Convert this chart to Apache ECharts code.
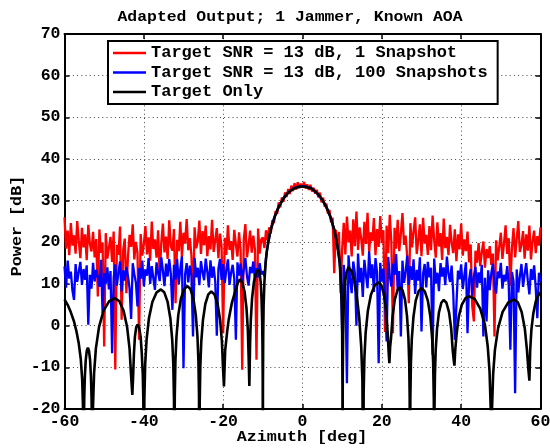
<!DOCTYPE html>
<html><head><meta charset="utf-8">
<script src="https://cdn.jsdelivr.net/npm/echarts@6/dist/echarts.min.js"></script>
<style>html,body{margin:0;padding:0;background:#fff}#c{width:550px;height:448px}</style>
</head><body><div id="c"></div><script>
const titleText = 'Adapted Output; 1 Jammer, Known AOA';
const xLabel = 'Azimuth [deg]';
const yLabel = 'Power [dB]';
const seriesNames = ['Target SNR = 13 dB, 1 Snapshot', 'Target SNR = 13 dB, 100 Snapshots', 'Target Only'];
const xRange = [-60, 60, 20];
const yRange = [-20, 70, 10];

// azimuth sampling grid of the noisy curves: -60 .. 60 deg, 0.4 deg apart
const azStart = -60, azStep = 0.4;

const redDb = [
26.0,18.5,22.8,16.9,24.6,19.2,21.7,17.3,25.1,20.4,
16.2,23.5,18.8,21.9,15.7,24.2,19.6,17.8,22.5,16.4,
20.8,7.0,23.1,17.5,19.9,-5.0,22.2,16.1,18.7,21.3,
15.3,22.6,-10.5,19.4,17.0,23.8,1.4,18.2,20.9,7.8,
16.6,21.8,18.9,24.3,15.9,20.1,17.4,-3.4,22.0,16.8,
19.5,23.9,17.1,21.2,15.6,25.0,18.4,20.7,16.3,22.9,
12.0,19.8,24.5,17.6,21.4,16.0,25.3,19.1,18.0,23.2,
5.4,20.6,17.9,24.9,16.5,22.3,19.7,25.6,18.1,21.0,
16.9,4.6,23.6,18.6,20.2,25.2,17.2,22.7,19.3,24.0,
16.7,21.5,18.3,25.4,17.7,20.5,23.4,16.2,22.1,19.0,
-1.8,21.1,17.0,24.1,18.2,20.3,15.8,23.0,19.5,16.6,
22.4,18.0,-10.6,20.8,24.4,16.4,19.2,22.8,17.5,21.6,
18.4,-8.2,23.3,17.3,20.7,
21.2,18.6,22.9,20.5,23.6,22.1,25.3,24.6,27.5,26.8,
29.6,28.4,30.8,29.7,32.0,30.9,32.8,31.6,33.6,32.3,
34.2,32.7,34.4,33.0,34.1,33.2,34.5,32.9,33.9,32.6,
33.8,32.2,33.1,31.7,32.6,30.8,31.9,29.6,30.7,28.5,
29.3,26.9,27.8,24.8,25.9,12.6,23.0,19.4,22.5,7.8,
18.3,24.7,17.1,26.2,20.0,22.8,16.6,25.5,19.1,27.4,
18.2,23.6,20.9,16.8,24.9,19.6,27.1,17.7,22.4,20.3,
25.8,16.9,23.2,18.9,26.3,19.8,22.9,-1.5,24.0,17.4,
26.6,20.1,-1.8,23.5,18.5,25.4,17.9,22.1,27.0,19.4,
21.6,16.5,5.4,24.6,18.8,22.6,26.0,17.2,20.6,24.3,
16.7,25.9,19.7,21.8,17.0,23.9,18.1,26.4,20.4,16.3,
24.8,19.0,22.2,15.8,25.7,18.6,21.3,16.9,24.2,19.9,
17.4,23.1,15.5,21.9,18.3,24.5,16.8,20.7,17.9,22.6,
15.2,19.5,4.6,1.0,18.0,15.1,19.8,14.3,17.6,20.2,
13.9,18.4,16.2,19.1,14.6,17.3,-2.6,20.5,15.7,18.9,
22.3,16.0,19.7,24.1,17.2,21.0,9.6,18.7,23.4,16.4,
20.8,25.1,17.7,19.4,22.7,16.1,21.9,18.0,24.0,15.9,
20.3,22.8,17.4,21.5,19.2,23.6
];

const blueDb = [
14.2,9.1,15.6,11.3,13.0,8.4,6.2,14.8,10.5,12.9,
15.3,9.8,13.6,11.0,14.5,0.2,12.2,8.9,15.1,10.6,
13.4,11.7,9.3,15.8,3.0,12.6,10.1,14.0,8.7,13.1,
-6.6,11.5,14.7,9.6,12.8,15.4,8.2,13.3,10.8,14.1,
11.9,9.0,1.6,15.0,12.4,10.3,4.6,13.8,11.2,15.6,
9.4,13.5,12.0,16.2,10.0,14.3,11.4,8.6,15.2,12.7,
10.7,16.4,13.2,9.5,14.9,11.8,16.0,12.5,3.8,14.6,
11.1,15.9,9.9,13.7,16.6,-10.2,12.3,15.0,10.4,14.4,
12.1,-2.6,16.3,11.6,13.9,9.7,15.5,12.9,10.9,16.1,
13.0,9.2,15.7,11.5,14.2,10.6,-2.4,13.6,16.0,11.0,
14.8,10.2,13.4,15.9,9.8,12.7,14.6,11.3,-3.4,15.2,
12.0,14.9,10.7,13.5,16.2,11.9,9.6,14.1,12.6,15.4,
10.9,13.8,11.6,15.0,12.3,
13.1,11.8,16.3,19.2,21.0,23.2,24.3,25.7,26.6,27.7,
28.4,29.3,29.8,30.6,30.9,31.6,31.8,32.3,32.4,32.9,
32.9,33.2,33.2,33.4,33.3,33.5,33.3,33.4,33.2,33.2,
32.9,32.9,32.4,32.3,31.8,31.6,30.9,30.6,29.8,29.3,
28.4,27.7,26.6,25.7,24.3,23.2,21.0,19.2,16.5,13.0,
-1.4,14.6,9.5,-13.8,16.9,11.2,7.8,15.4,12.6,0.0,
17.3,10.4,13.9,6.9,15.8,12.1,9.0,17.8,11.4,14.7,
8.1,16.2,12.8,-9.0,15.1,10.6,13.7,7.4,-3.8,16.5,
11.9,9.4,14.9,12.2,17.2,8.6,13.1,-2.6,15.6,10.3,
12.9,16.8,9.8,14.3,11.0,15.9,7.6,13.4,10.8,16.4,
-1.4,12.5,14.8,9.2,15.3,11.6,13.9,-7.0,16.1,10.1,
12.7,8.3,15.0,11.8,14.0,9.7,16.6,12.4,10.5,14.4,
7.9,-3.4,5.0,13.2,11.1,14.7,8.8,12.0,15.2,-1.8,
10.9,13.6,7.2,11.9,14.1,9.1,12.8,10.2,14.6,-2.6,
11.5,1.0,13.3,8.5,12.6,14.9,10.0,7.7,13.0,11.4,
15.1,8.9,12.2,10.6,14.3,9.6,-5.8,12.9,10.7,-16.2,
13.5,8.0,11.8,14.8,9.3,12.4,15.0,10.8,7.5,13.6,
11.0,14.5,9.0,1.8,12.7,10.5
];

// target-only pattern (az in deg, power in dB)
const blackAz = [
-60,-59.2,-58.4,-57.6,-57,-56.4,-55.9,-55.55,-55.35,-55.2,
-55.17,-55.11,-55.02,-54.87,-54.65,-54.38,-54.1,-53.83,-53.55,-53.33,-53.18,-53.09,-53.03,-53,
-52.83,-52.54,-52.09,-51.29,-50.15,-48.72,-47.3,-46.2,-45.1,-44.22,-43.6,-43.25,-42.9,
-42.7,-42.5,-42.25,-41.93,-41.6,-41.2,-40.8,-40.52,-40.26,-40.13,-40.05,-40,
-39.87,-39.66,-39.31,-38.71,-37.85,-36.77,-35.7,-34.85,-34,-33.32,-32.84,-32.57,-32.4,-32.3,
-32.2,-32.04,-31.77,-31.31,-30.65,-29.83,-29,-28.25,-27.5,-26.9,-26.48,-26.24,-26.09,-26,
-25.91,-25.76,-25.52,-25.1,-24.5,-23.75,-23,-22.2,-21.4,-20.76,-20.31,-20.06,-19.8,
-19.5,-19,-18.6,-17.8,-16.9,-16.3,-15.8,-15.2,-14.6,-14.12,-13.78,-13.6,-13.4,
-13.22,-13.03,-12.71,-12.25,-11.68,-11.1,-10.83,-10.55,-10.33,-10.18,-10.09,-10.03,-10,
-9.97,-9.9,-9.8,-9.6,-9.3,-9,-8.5,-8,-7,-6,-5,-4,-3,-2,-1,0,1,2,3,4,5,6,7,8,8.5,9,9.4,9.7,9.9,10,10.07,10.1,
10.15,10.25,10.4,10.65,11,11.6,12.3,13,13.7,14.3,14.8,15.1,15.3,
15.42,15.61,15.92,16.47,17.25,18.22,19.2,19.88,20.55,21.09,21.47,21.7,21.9,
22.1,22.33,22.71,23.25,23.93,24.6,25.23,25.85,26.35,26.7,26.9,27.02,27.1,
27.19,27.33,27.56,27.97,28.55,29.28,30,30.8,31.6,32.24,32.69,32.94,33.1,33.2,
33.27,33.39,33.58,33.92,34.4,35,35.6,36.28,36.95,37.49,37.87,38.1,38.3,
38.5,38.85,39.4,40.15,41.1,42,43.4,44.8,46,46.7,47.15,47.43,47.6,
47.77,48.06,48.51,49.31,50.45,51.88,53.3,54.28,55.25,56.03,56.58,56.9,57.2,
57.4,57.7,58.2,58.8,59.4,60
];
const blackDb = [
6.3,5.0,3.2,1.0,-1.3,-4.3,-8.0,-12.8,-19,-40,
-31.8,-23.3,-17.4,-12.2,-8.3,-6.0,-5.3,-6.0,-8.3,-12.2,-17.4,-23.3,-31.8,-40,
-19.9,-11.4,-5.5,-0.3,3.6,5.9,6.6,5.9,3.6,-0.3,-5.5,-11.4,-16.6,
-12.1,-6.8,-2.7,-0.4,0.3,-0.4,-2.7,-6.6,-11.8,-17.7,-26.2,-40,
-17.8,-9.3,-3.4,1.8,5.7,8.0,8.7,8.0,5.7,1.8,-3.4,-9.3,-17.8,-40,
-17.0,-8.5,-2.6,2.6,6.5,8.8,9.5,8.8,6.5,2.6,-2.6,-8.5,-17.0,-40,
-18.3,-9.8,-3.9,1.3,5.2,7.5,8.2,7.5,5.2,1.3,-3.9,-9.8,-14.6,
-6,-1.5,1.5,5.5,8.5,10.3,11.1,10.4,8.1,4.2,-1.0,-6.9,-14.5,
-4.5,1.4,6.6,10.5,12.8,13.5,12.8,10.5,6.6,1.4,-4.5,-13,-40,
-14,-2,5,10.5,15,17.8,20.8,23.0,26.2,28.5,30.2,31.5,32.4,33.0,33.3,33.4,33.3,33.0,32.4,31.5,30.2,28.5,26.2,23.0,20.8,17.8,15,10.5,5,-2,-14,-40,
-12,-2,5,9.5,12.5,14.1,13.2,11,7,2,-5,-13,-40,
-16.1,-7.6,-1.7,3.5,7.4,9.7,10.4,9.7,7.4,3.5,-1.7,-6,-9,
-5,-2.9,2.3,6.2,8.5,9.2,8.5,6.2,2.3,-2.9,-8.8,-17.3,-40,
-17.5,-9.0,-3.1,2.1,6.0,8.3,9.0,8.3,6.0,2.1,-3.1,-9.0,-17.5,-40,
-20.3,-11.8,-5.9,-0.7,3.2,5.5,6.2,5.5,3.2,-0.7,-5.9,-8,-9.6,
-6,-2,2.2,5.0,6.6,7.1,6.4,4.1,0.2,-5.0,-10.9,-19.4,-40,
-20.2,-11.7,-5.8,-0.6,3.3,5.6,6.3,5.6,3.3,-0.6,-5.8,-10,-13.2,
-6,-1,3,5.8,7.2,8.0
];

const FONT = "'Liberation Mono', 'Courier New', monospace";
const pairs = (ys) => ys.map((v, i) => [azStart + i * azStep, v]);
const blackData = blackAz.map((a, i) => [a, blackDb[i]]);

const chart = echarts.init(document.getElementById('c'), null, {renderer: 'canvas'});

const baseAxis = {
  axisLine: {show: true, onZero: false, lineStyle: {color: '#000', width: 2}},
  axisTick: {show: true, inside: true, length: 5, lineStyle: {color: '#000', width: 1.5}},
};
const gridLine = {show: true, lineStyle: {color: '#444', width: 1, type: [1, 3.2]}};
const lbl = {color: '#000', fontFamily: FONT, fontWeight: 'bold', fontSize: 16.5};

chart.setOption({
  animation: false,
  backgroundColor: '#fff',
  grid: {left: 64.5, right: 9.5, top: 34, bottom: 39, containLabel: false, outerBoundsMode: 'none'},
  xAxis: [
    Object.assign({type: 'value', min: xRange[0], max: xRange[1], interval: xRange[2], position: 'bottom',
      axisLabel: Object.assign({margin: 4, showMinLabel: true, showMaxLabel: true}, lbl),
      splitLine: gridLine}, baseAxis),
    Object.assign({type: 'value', min: xRange[0], max: xRange[1], interval: xRange[2], position: 'top',
      axisLabel: {show: false}, splitLine: {show: false}}, baseAxis)
  ],
  yAxis: [
    Object.assign({type: 'value', min: yRange[0], max: yRange[1], interval: yRange[2], position: 'left',
      axisLabel: Object.assign({margin: 4, showMinLabel: true, showMaxLabel: true}, lbl),
      splitLine: gridLine}, baseAxis),
    Object.assign({type: 'value', min: yRange[0], max: yRange[1], interval: yRange[2], position: 'right',
      axisLabel: {show: false}, splitLine: {show: false}}, baseAxis)
  ],
  legend: {
    show: true, orient: 'vertical', left: 108, top: 41,
    padding: [3, 10, 3, 5], itemGap: 1.5, itemWidth: 33, itemHeight: 2.5,
    icon: 'rect', backgroundColor: '#fff', borderColor: '#000', borderWidth: 2, borderRadius: 0,
    textStyle: {color: '#000', fontFamily: FONT, fontWeight: 'bold', fontSize: 17, lineHeight: 18},
    data: seriesNames
  },
  graphic: [
    {type: 'text', x: 290, y: 17, scaleX: 1.06, z: 100,
      style: {text: titleText, fontFamily: FONT, fontWeight: 'bold', fontSize: 15.5, fill: '#000', align: 'center', verticalAlign: 'middle'}},
    {type: 'text', x: 302, y: 437.5, scaleX: 1.08, z: 100,
      style: {text: xLabel, fontFamily: FONT, fontWeight: 'bold', fontSize: 15.5, fill: '#000', align: 'center', verticalAlign: 'middle'}},
    {type: 'text', x: 17, y: 226, rotation: Math.PI / 2, scaleX: 1.08, z: 100,
      style: {text: yLabel, fontFamily: FONT, fontWeight: 'bold', fontSize: 15.5, fill: '#000', align: 'center', verticalAlign: 'middle'}}
  ],
  series: [
    {name: seriesNames[0], type: 'line', data: pairs(redDb), showSymbol: false, symbol: 'none',
      lineStyle: {color: '#ff0000', width: 2.3}, itemStyle: {color: '#ff0000'}, clip: true, z: 2},
    {name: seriesNames[1], type: 'line', data: pairs(blueDb), showSymbol: false, symbol: 'none',
      lineStyle: {color: '#0000ff', width: 2.3}, itemStyle: {color: '#0000ff'}, clip: true, z: 3},
    {name: seriesNames[2], type: 'line', data: blackData, showSymbol: false, symbol: 'none',
      lineStyle: {color: '#000', width: 2.6}, itemStyle: {color: '#000'}, clip: true, z: 4}
  ]
});
</script></body></html>
